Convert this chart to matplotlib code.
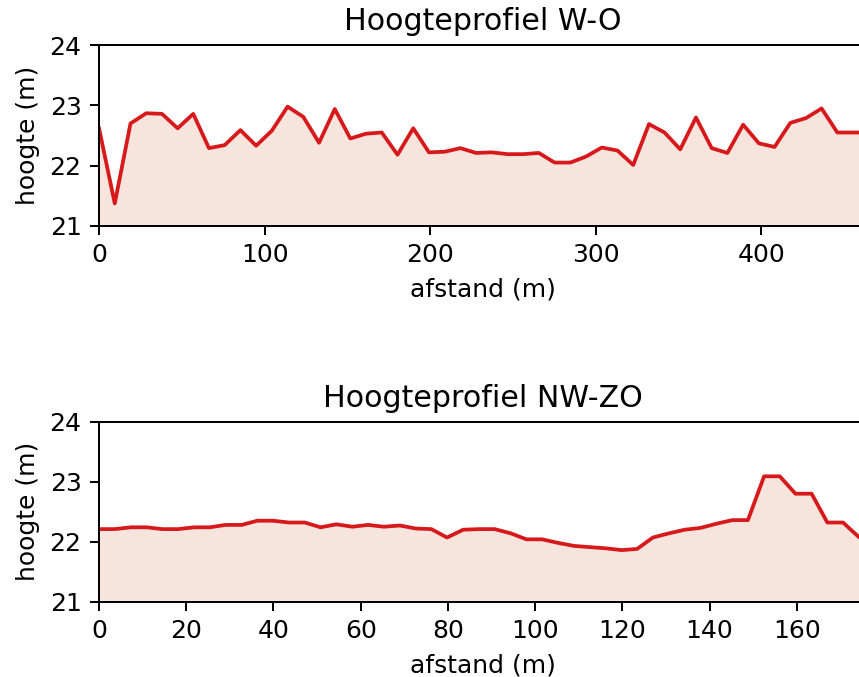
import matplotlib
matplotlib.use('Agg')
import matplotlib.pyplot as plt

# Hoogteprofiel W-O: afstand (m) en hoogte (m)
afstand_wo = [0, 9.5, 19.0, 28.5, 38.0, 47.5, 56.9, 66.4, 75.9, 85.4,
              94.9, 104.4, 113.9, 123.4, 132.9, 142.4, 151.8, 161.3, 170.8, 180.3,
              189.8, 199.3, 208.8, 218.3, 227.8, 237.3, 246.7, 256.2, 265.7, 275.2,
              284.7, 294.2, 303.7, 313.2, 322.7, 332.2, 341.6, 351.1, 360.6, 370.1,
              379.6, 389.1, 398.6, 408.1, 417.6, 427.1, 436.5, 446.0, 455.5, 465.0]
hoogte_wo = [22.62, 21.37, 22.70, 22.87, 22.86, 22.62, 22.86, 22.29, 22.34, 22.59,
             22.33, 22.58, 22.98, 22.81, 22.38, 22.94, 22.45, 22.53, 22.55, 22.18,
             22.62, 22.22, 22.23, 22.29, 22.21, 22.22, 22.19, 22.19, 22.21, 22.05,
             22.05, 22.15, 22.30, 22.25, 22.01, 22.69, 22.55, 22.27, 22.80, 22.29,
             22.21, 22.68, 22.37, 22.31, 22.71, 22.79, 22.95, 22.55, 22.55, 22.55]

# Hoogteprofiel NW-ZO
afstand_nwzo = [0, 3.6, 7.3, 10.9, 14.5, 18.1, 21.8, 25.4, 29.0, 32.7,
                36.3, 39.9, 43.5, 47.2, 50.8, 54.4, 58.1, 61.7, 65.3, 69.0,
                72.6, 76.2, 79.8, 83.5, 87.1, 90.7, 94.4, 98.0, 101.6, 105.3,
                108.9, 112.5, 116.2, 119.8, 123.4, 127.0, 130.7, 134.3, 137.9, 141.6,
                145.2, 148.8, 152.5, 156.1, 159.7, 163.4, 167.0, 170.6, 174.2, 177.9]
hoogte_nwzo = [22.21, 22.21, 22.24, 22.24, 22.21, 22.21, 22.24, 22.24, 22.28, 22.28,
               22.35, 22.35, 22.32, 22.32, 22.24, 22.29, 22.25, 22.28, 22.25, 22.27,
               22.22, 22.21, 22.07, 22.20, 22.21, 22.21, 22.14, 22.04, 22.04, 21.98,
               21.93, 21.91, 21.89, 21.86, 21.88, 22.07, 22.14, 22.20, 22.23, 22.30,
               22.36, 22.36, 23.09, 23.09, 22.80, 22.80, 22.32, 22.32, 22.08, 21.95]

profielen = [
    ('Hoogteprofiel W-O', afstand_wo, hoogte_wo, 463.4, [0, 100, 200, 300, 400]),
    ('Hoogteprofiel NW-ZO', afstand_nwzo, hoogte_nwzo, 175.9, [0, 20, 40, 60, 80, 100, 120, 140, 160]),
]

fig = plt.figure(figsize=(859 / 180, 677 / 180), dpi=180)

# axes run a little past the right edge of the picture, as in the original crop
posities = [[0.1153, 0.6666, 0.8930, 0.2665],
            [0.1153, 0.1112, 0.8930, 0.2659]]

for pos, (titel, x, y, xmax, xt) in zip(posities, profielen):
    ax = fig.add_axes(pos)
    ax.fill_between(x, y, 21, color='#f7e4dd', linewidth=0)
    ax.plot(x, y, color='#d7191c', linewidth=1.5)
    ax.set_xlim(0, xmax)
    ax.set_ylim(21, 24)
    ax.set_yticks([21, 22, 23, 24])
    ax.set_xticks(xt)
    ax.set_title(titel)
    ax.set_xlabel('afstand (m)')
    ax.set_ylabel('hoogte (m)')

fig.savefig('out.png', dpi=180)
